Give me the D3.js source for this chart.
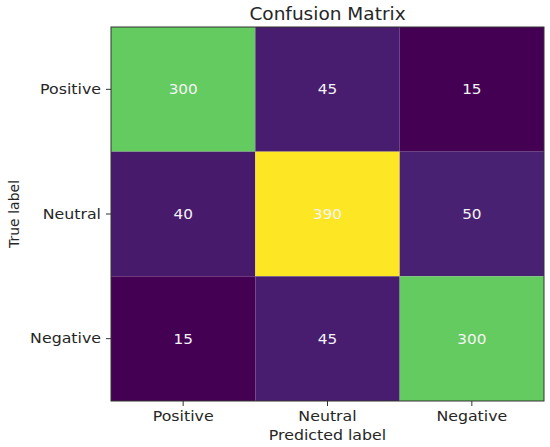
<!DOCTYPE html>
<html>
<head>
<meta charset="utf-8">
<script src="https://cdn.jsdelivr.net/npm/d3@7"></script>
<style>
  body { margin: 0; background: #fff; }
  text { font-family: "DejaVu Sans", sans-serif; fill: #262626; }
</style>
</head>
<body>
<div id="container"></div>
<script>
var width = 550,
    height = 447;

// data
const labels = ["Positive", "Neutral", "Negative"];
const matrix = [
  [300, 45, 15],
  [40, 390, 50],
  [15, 45, 300]
];

var margin = {top: 27, right: 6, bottom: 46, left: 111};
// the source picture is stretched a bit horizontally, text too
var sx = 1.09;

var svg = d3.select("#container").append("svg")
  .attr("width", width)
  .attr("height", height);

var x = d3.scaleBand().domain(labels).range([margin.left, width - margin.right]);
var y = d3.scaleBand().domain(labels).range([margin.top, height - margin.bottom]);

var flat = matrix.flat();
var color = d3.scaleSequential(d3.interpolateViridis)
  .domain([d3.min(flat), d3.max(flat)]);

var cells = [];
matrix.forEach(function(row, i) {
  row.forEach(function(v, j) {
    cells.push({row: labels[i], col: labels[j], value: v});
  });
});

// cells
svg.append("g")
  .selectAll("rect")
  .data(cells)
  .enter().append("rect")
  .attr("x", function(d) { return x(d.col); })
  .attr("y", function(d) { return y(d.row); })
  .attr("width", x.bandwidth())
  .attr("height", y.bandwidth())
  .attr("fill", function(d) { return color(d.value); });

// cell text
svg.append("g")
  .selectAll("text")
  .data(cells)
  .enter().append("text")
  .attr("transform", function(d) {
    return "translate(" + (x(d.col) + x.bandwidth() / 2) + "," + (y(d.row) + y.bandwidth() / 2) + ") scale(" + sx + ",1)";
  })
  .attr("text-anchor", "middle")
  .attr("dy", "0.35em")
  .style("font-size", "14px")
  .style("fill", "#f4f4f4")
  .text(function(d) { return d.value; });

// frame
svg.append("rect")
  .attr("x", margin.left)
  .attr("y", margin.top)
  .attr("width", width - margin.left - margin.right)
  .attr("height", height - margin.top - margin.bottom)
  .attr("fill", "none")
  .attr("stroke", "#333")
  .attr("stroke-width", 1);

// axes
var xAxis = svg.append("g")
  .attr("transform", "translate(0," + (height - margin.bottom) + ")")
  .call(d3.axisBottom(x).tickSize(5).tickPadding(5));
var yAxis = svg.append("g")
  .attr("transform", "translate(" + margin.left + ",0)")
  .call(d3.axisLeft(y).tickSize(5).tickPadding(5));

[xAxis, yAxis].forEach(function(a) {
  a.select(".domain").remove();
  a.selectAll(".tick line").attr("stroke", "#333");
  a.selectAll(".tick text")
    .attr("transform", "scale(" + sx + ",1)")
    .style("font-size", "14.5px")
    .style("font-family", "DejaVu Sans, sans-serif")
    .attr("fill", "#262626");
});
yAxis.selectAll(".tick text").attr("x", -10 / sx);

// title and axis labels
svg.append("text")
  .attr("transform", "translate(" + ((margin.left + width - margin.right) / 2) + ",20) scale(" + sx + ",1)")
  .attr("text-anchor", "middle")
  .style("font-size", "17px")
  .text("Confusion Matrix");

svg.append("text")
  .attr("transform", "translate(" + ((margin.left + width - margin.right) / 2) + ",440) scale(" + sx + ",1)")
  .attr("text-anchor", "middle")
  .style("font-size", "14.5px")
  .text("Predicted label");

svg.append("text")
  .attr("transform", "translate(18.5," + ((margin.top + height - margin.bottom) / 2) + ") rotate(-90)")
  .attr("text-anchor", "middle")
  .style("font-size", "14px")
  .text("True label");
</script>
</body>
</html>
